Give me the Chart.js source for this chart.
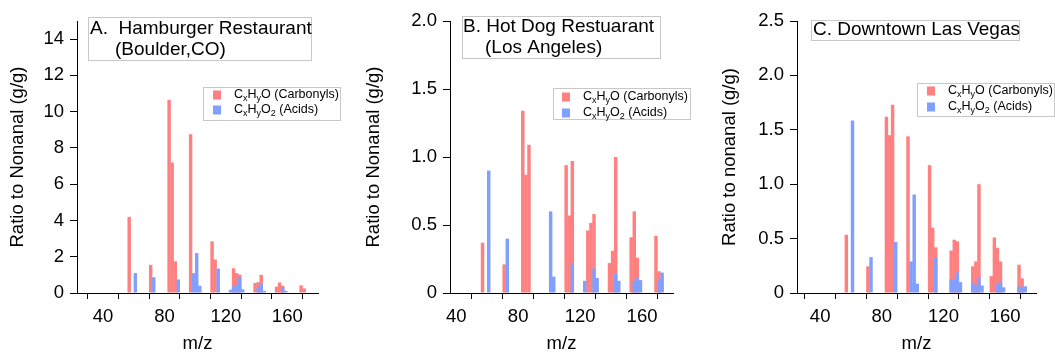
<!DOCTYPE html>
<html>
<head>
<meta charset="utf-8">
<script src="https://cdn.jsdelivr.net/npm/chart.js@4.4.1/dist/chart.umd.min.js"></script>
<style>
  html, body { margin: 0; padding: 0; background: #fff; }
  #wrap { position: relative; width: 1055px; height: 353px; overflow: hidden; }
  canvas { position: absolute; top: 0; }
</style>
</head>
<body>
<div id="wrap">
  <canvas id="chartA" width="350" height="353" style="left:0px"></canvas>
  <canvas id="chartB" width="350" height="353" style="left:350px"></canvas>
  <canvas id="chartC" width="355" height="353" style="left:700px"></canvas>
</div>
<script>
// values (m/z of bar centre, ratio to nonanal)
const mzCarbA = [57, 71, 83, 85, 87, 97, 111, 113, 125, 127, 129, 139, 141, 143, 153, 155, 157, 169, 171];
const carbA   = [4.2, 1.55, 10.65, 7.2, 1.75, 8.75, 2.85, 1.85, 1.36, 1.1, 1.02, 0.55, 0.6, 1.0, 0.35, 0.58, 0.4, 0.42, 0.25];
const mzAcidA = [61, 73, 89, 99, 101, 103, 115, 123, 125, 127, 129, 131, 141, 143, 145, 157, 159];
const acidA   = [1.1, 0.87, 0.75, 1.1, 2.2, 0.4, 1.35, 0.18, 0.37, 0.45, 0.85, 0.2, 0.3, 0.52, 0.12, 0.32, 0.12];

const mzCarbB = [57, 71, 83, 85, 87, 111, 113, 115, 125, 127, 129, 139, 141, 143, 153, 155, 157, 169, 171];
const carbB   = [0.37, 0.21, 1.34, 0.87, 1.09, 0.94, 0.57, 0.97, 0.46, 0.515, 0.58, 0.22, 0.31, 1.0, 0.41, 0.6, 0.26, 0.42, 0.16];
const mzAcidB = [61, 73, 101, 103, 115, 123, 129, 131, 143, 145, 155, 157, 159, 171, 173];
const acidB   = [0.9, 0.4, 0.6, 0.12, 0.22, 0.09, 0.18, 0.11, 0.14, 0.09, 0.09, 0.11, 0.095, 0.095, 0.15];

const mzCarbC = [57, 71, 83, 85, 87, 97, 111, 113, 115, 125, 127, 129, 139, 141, 143, 151, 153, 155, 157, 169, 171];
const carbC   = [0.535, 0.245, 1.62, 1.45, 1.73, 1.44, 1.175, 0.6, 0.42, 0.39, 0.49, 0.475, 0.245, 0.29, 1.0, 0.155, 0.51, 0.415, 0.29, 0.26, 0.135];
const mzAcidC = [61, 73, 89, 99, 101, 103, 115, 125, 127, 129, 131, 139, 141, 143, 145, 155, 157, 159, 169, 171, 173];
const acidC   = [1.585, 0.33, 0.47, 0.29, 0.905, 0.086, 0.33, 0.125, 0.125, 0.19, 0.1, 0.095, 0.07, 0.14, 0.068, 0.08, 0.105, 0.052, 0.06, 0.057, 0.062];

const xTickLabels = [40, 80, 120, 160];

const RED = 'rgb(255,128,128)';
const BLUE = 'rgb(128,160,255)';
const FONT = '"Liberation Sans", Arial, sans-serif';

Chart.defaults.font.family = FONT;
Chart.defaults.color = '#000';

// legend text pieces: [text, isSubscript]
const legendCarb = [['C', 0], ['x', 1], ['H', 0], ['y', 1], ['O (Carbonyls)', 0]];
const legendAcid = [['C', 0], ['x', 1], ['H', 0], ['y', 1], ['O', 0], ['2', 1], [' (Acids)', 0]];

function drawRich(ctx, parts, x, y, size) {
  let cx = x;
  parts.forEach(([t, sub]) => {
    const s = sub ? size * 0.72 : size;
    ctx.font = s + 'px ' + FONT;
    ctx.fillText(t, cx, sub ? y + size * 0.3 : y);
    cx += ctx.measureText(t).width;
  });
}

// title box + legend box drawn on top of the plot
const panelNotes = {
  id: 'panelNotes',
  afterDraw(chart, args, o) {
    const ctx = chart.ctx;
    ctx.save();
    ctx.textBaseline = 'middle';
    ctx.fillStyle = '#fff';
    ctx.strokeStyle = '#c8c8c8';
    ctx.lineWidth = 1;
    const b = o.box;
    ctx.fillRect(b.x, b.y, b.w, b.h);
    ctx.strokeRect(b.x + 0.5, b.y + 0.5, b.w, b.h);
    ctx.fillStyle = '#000';
    ctx.font = '19px ' + FONT;
    o.lines.forEach(([t, x, y]) => ctx.fillText(t, x, y));

    const l = o.legend;
    ctx.fillStyle = '#fff';
    ctx.fillRect(l.x, l.y, l.w, l.h);
    ctx.strokeRect(l.x + 0.5, l.y + 0.5, l.w, l.h);
    [[RED, legendCarb, l.row1], [BLUE, legendAcid, l.row2]].forEach(([c, parts, ry]) => {
      ctx.fillStyle = c;
      ctx.fillRect(l.sx, ry - 4.5, 8, 9);
      ctx.fillStyle = '#000';
      drawRich(ctx, parts, l.tx, ry, 12.5);
    });
    ctx.restore();
  }
};

function toPoints(xs, ys) {
  return xs.map((x, i) => ({ x, y: ys[i] }));
}

function makePanel(id, p) {
  return new Chart(document.getElementById(id), {
    type: 'bar',
    data: {
      datasets: [
        {
          label: 'CxHyO (Carbonyls)',
          data: toPoints(p.mzCarb, p.carb),
          backgroundColor: RED,
          borderWidth: 0,
          order: 2
        },
        {
          label: 'CxHyO2 (Acids)',
          data: toPoints(p.mzAcid, p.acid),
          backgroundColor: BLUE,
          borderWidth: 0,
          order: 1
        }
      ]
    },
    options: {
      responsive: false,
      animation: false,
      events: [],
      grouped: false,
      categoryPercentage: 1,
      barPercentage: 1.12,
      layout: { padding: { top: 21, right: p.padRight, bottom: 0, left: 0 } },
      plugins: {
        legend: { display: false },
        tooltip: { enabled: false },
        panelNotes: p.notes
      },
      scales: {
        x: {
          type: 'linear',
          min: p.xMin,
          max: 180,
          offset: false,
          grid: { drawOnChartArea: false, tickLength: 6, tickColor: '#000' },
          border: { color: '#000', width: 1 },
          ticks: {
            stepSize: 20,
            includeBounds: false,
            autoSkip: false,
            maxRotation: 0,
            padding: 7,
            font: { size: 18.5 },
            callback: v => xTickLabels.includes(v) ? String(v) : ''
          },
          title: { display: true, text: 'm/z', font: { size: 18.5, lineHeight: 1 }, padding: { top: 0, bottom: 0 } },
          afterFit: s => { s.height = 60; }
        },
        y: {
          type: 'linear',
          min: 0,
          max: p.yMax,
          grid: { drawOnChartArea: false, tickLength: 7, tickColor: '#000' },
          border: { color: '#000', width: 1 },
          ticks: {
            stepSize: p.yStep,
            includeBounds: false,
            padding: 6,
            font: { size: 18.5 },
            callback: p.yFmt
          },
          title: { display: true, text: p.yTitle, font: { size: 18.5 }, padding: { top: p.yTitlePad, bottom: 0 } },
          afterFit: s => { s.width = p.yWidth; }
        }
      }
    },
    plugins: [panelNotes]
  });
}

const oneDec = v => v === 0 ? '0' : v.toFixed(1);

makePanel('chartA', {
  mzCarb: mzCarbA, carb: carbA, mzAcid: mzAcidA, acid: acidA,
  xMin: 23, yMax: 15, yStep: 2, yFmt: v => String(v),
  yTitle: 'Ratio to Nonanal (g/g)', yTitlePad: 7, yWidth: 77, padRight: 32,
  notes: {
    box: { x: 88, y: 17, w: 223, h: 43 },
    lines: [['A.  Hamburger Restaurant', 90, 29], ['(Boulder,CO)', 115, 50]],
    legend: { x: 203, y: 87, w: 137, h: 33, sx: 213, tx: 234, row1: 95, row2: 110 }
  }
});

makePanel('chartB', {
  mzCarb: mzCarbB, carb: carbB, mzAcid: mzAcidB, acid: acidB,
  xMin: 36, yMax: 2.0, yStep: 0.5, yFmt: oneDec,
  yTitle: 'Ratio to Nonanal (g/g)', yTitlePad: 13, yWidth: 100, padRight: 27,
  notes: {
    box: { x: 112, y: 16, w: 198, h: 42 },
    lines: [['B. Hot Dog Restuarant', 113, 27], ['(Los Angeles)', 135, 48]],
    legend: { x: 203, y: 88, w: 137, h: 31, sx: 212, tx: 233, row1: 97, row2: 113 }
  }
});

makePanel('chartC', {
  mzCarb: mzCarbC, carb: carbC, mzAcid: mzAcidC, acid: acidC,
  xMin: 25, yMax: 2.5, yStep: 0.5, yFmt: oneDec,
  yTitle: 'Ratio to nonanal (g/g)', yTitlePad: 19, yWidth: 97, padRight: 19,
  notes: {
    box: { x: 111, y: 20, w: 208, h: 20 },
    lines: [['C. Downtown Las Vegas', 113, 30]],
    legend: { x: 217, y: 83, w: 137, h: 33, sx: 227, tx: 248, row1: 91, row2: 107 }
  }
});
</script>
</body>
</html>
